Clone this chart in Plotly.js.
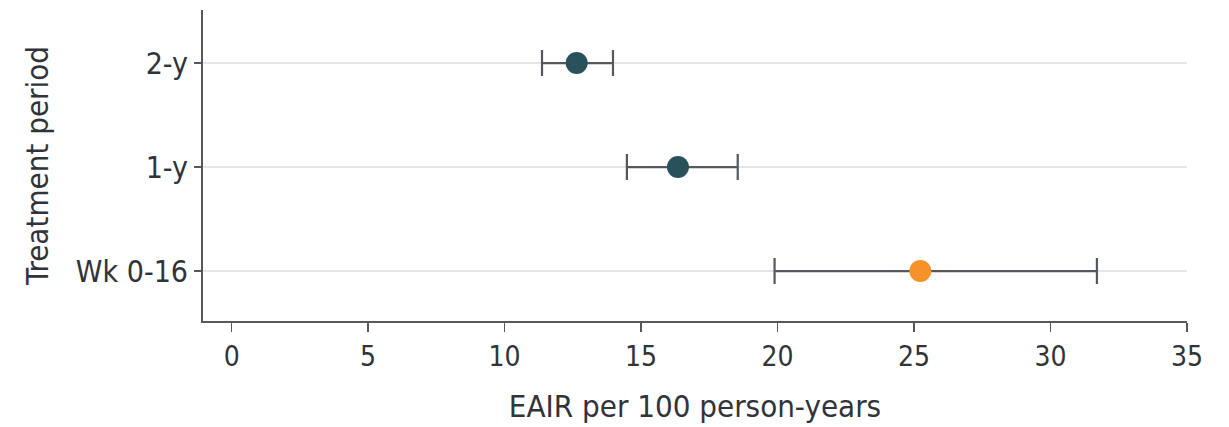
<!DOCTYPE html>
<html>
<head>
<meta charset="utf-8">
<script src="https://cdn.plot.ly/plotly-3.0.1.min.js"></script>
<style>html,body{margin:0;padding:0;background:#fff;}#chart{width:1229px;height:427px;}</style>
</head>
<body>
<div id="chart"></div>
<script>
const periods = ['Wk 0-16', '1-y', '2-y'];
const eair = [25.23, 16.35, 12.64];
const ciLower = [19.89, 14.48, 11.37];
const ciUpper = [31.70, 18.54, 13.97];
const pointColors = ['#f7922a', '#27525c', '#27525c'];
const xTicks = [0, 5, 10, 15, 20, 25, 30, 35];

const FONT = '"Liberation Sans Narrow", "DejaVu Sans Condensed", "Liberation Sans", sans-serif';

const trace = {
  type: 'scatter',
  mode: 'markers',
  x: eair,
  y: periods,
  marker: {color: pointColors, size: 22, line: {width: 0}},
  error_x: {
    type: 'data',
    symmetric: false,
    array: eair.map((v, i) => ciUpper[i] - v),
    arrayminus: eair.map((v, i) => v - ciLower[i]),
    color: '#55585c',
    thickness: 2.2,
    width: 13
  },
  hoverinfo: 'x+y'
};

const layout = {
  width: 1229,
  height: 427,
  margin: {l: 203, r: 42, t: 10, b: 106},
  paper_bgcolor: '#ffffff',
  plot_bgcolor: '#ffffff',
  showlegend: false,
  font: {family: FONT, color: '#30343a'},
  xaxis: {
    range: [-1.05, 35],
    tickvals: xTicks,
    ticktext: xTicks.map(String),
    showgrid: false,
    zeroline: false,
    showline: true,
    linecolor: '#55585c',
    linewidth: 2,
    ticks: 'outside',
    ticklen: 9,
    tickwidth: 1.5,
    tickcolor: '#55585c',
    tickfont: {family: FONT, size: 28, color: '#30343a'},
    title: {text: 'EAIR per 100 person-years', font: {family: FONT, size: 31, color: '#30343a'}, standoff: 24}
  },
  yaxis: {
    type: 'category',
    categoryorder: 'array',
    categoryarray: periods,
    range: [-0.48, 2.51],
    showgrid: true,
    gridcolor: '#e6e6e6',
    gridwidth: 2,
    zeroline: false,
    showline: true,
    linecolor: '#55585c',
    linewidth: 2,
    ticks: 'outside',
    ticklen: 7,
    tickwidth: 1.5,
    tickcolor: '#55585c',
    tickfont: {family: FONT, size: 30, color: '#30343a'},
    title: {text: 'Treatment period', font: {family: FONT, size: 31, color: '#30343a'}, standoff: 18}
  }
};

Plotly.newPlot('chart', [trace], layout, {displayModeBar: false, staticPlot: true});
</script>
</body>
</html>
